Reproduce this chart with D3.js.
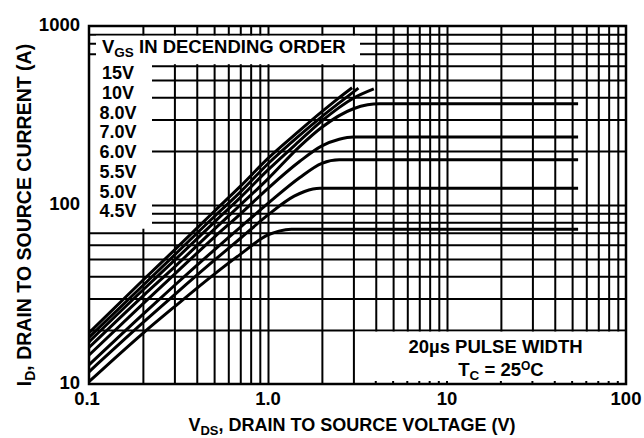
<!DOCTYPE html>
<html><head><meta charset="utf-8">
<script src="https://cdn.jsdelivr.net/npm/d3@7"></script>
<style>
body{margin:0;background:#fff}
svg{display:block}
text{font-family:"Liberation Sans",Arial,Helvetica,sans-serif;font-weight:bold;fill:#000}
</style>
</head><body>
<svg id="chart" width="644" height="438"></svg>
<script>
// ---- data ----
const vgsLabels = ["15V","10V","8.0V","7.0V","6.0V","5.5V","5.0V","4.5V"];

const vds15 = [0.1,0.2,0.3,0.5,0.7,1.0,1.5,2.0,2.5,2.95];
const id15  = [19.3,38,56,92,127,182,260,332,398,452];
const vds10 = [0.1,0.2,0.3,0.5,0.7,1.0,1.5,2.0,2.5,3.2];
const id10  = [18.2,35.5,52.5,86,118,170,245,312,372,450];
const vds8  = [0.1,0.2,0.3,0.5,0.7,1.0,1.5,2.0,3.0,3.9];
const id8   = [17.2,33.5,49,80,110,157,228,295,395,445];
const vds7  = [0.1,0.2,0.3,0.5,0.7,1.0,1.5,2.0,3.0,3.6,4.2,54];
const id7   = [16,31,45,73,100,140,212,272,345,363,368,368];
const vds6  = [0.1,0.2,0.3,0.5,0.7,1.0,1.5,2.0,2.5,3.0,54];
const id6   = [14.5,28,41,66,89,124,175,214,233,240,240];
const vds55 = [0.1,0.2,0.3,0.5,0.7,1.0,1.5,2.0,2.5,54];
const id55  = [12.8,24.5,35.5,56,75,102,142,171,179,179];
const vds5  = [0.1,0.2,0.3,0.5,0.7,1.0,1.4,1.6,1.95,54];
const id5   = [11.7,22,31.5,49,65,88,112,119,124,124];
const vds45 = [0.1,0.2,0.3,0.5,0.7,1.0,1.15,1.35,54];
const id45  = [10.3,19.2,27,41,53,68,71.5,73.3,73.3];

const xTickValues = [0.1,1,10,100];
const xTickLabels = ["0.1","1.0","10","100"];
const yTickValues = [10,100,1000];
const yTickLabels = ["10","100","1000"];
const xGrid = [0.2,0.3,0.4,0.5,0.6,0.7,0.8,0.9,1,2,3,4,5,6,7,8,9,10,20,30,40,50,60,70,80,90];
const yGrid = [20,30,40,50,60,70,80,90,100,200,300,400,500,600,700,800,900];

const seriesVds = [vds15,vds10,vds8,vds7,vds6,vds55,vds5,vds45];
const seriesId  = [id15,id10,id8,id7,id6,id55,id5,id45];

// ---- layout ----
const L = 89, R = 626, T = 26, B = 384;
const FS = 18.5;
const svg = d3.select("#chart");
const x = d3.scaleLog().domain([0.1,100]).range([L,R]);
const y = d3.scaleLog().domain([10,1000]).range([B,T]);

// grid via axes
svg.append("g").attr("transform",`translate(0,${B})`)
  .call(d3.axisBottom(x).tickValues(xGrid).tickSize(-(B-T)).tickFormat(""))
  .call(g=>{g.select(".domain").remove();g.selectAll("line").attr("stroke","#000").attr("stroke-width",2);});
svg.append("g").attr("transform",`translate(${L},0)`)
  .call(d3.axisLeft(y).tickValues(yGrid).tickSize(-(R-L)).tickFormat(""))
  .call(g=>{g.select(".domain").remove();g.selectAll("line").attr("stroke","#000").attr("stroke-width",2);});

// white label areas
svg.append("rect").attr("x",96).attr("y",y(900)+1.5).attr("width",264).attr("height",y(600)-y(900)-3).attr("fill","#fff");
svg.append("rect").attr("x",L).attr("y",y(600)-2).attr("width",63).attr("height",y(70)-y(600)-2).attr("fill","#fff");
svg.append("rect").attr("x",x(3)+2).attr("y",y(20)+1.5).attr("width",R-x(3)-2).attr("height",B-y(20)-1.5).attr("fill","#fff");
// small ticks at bottom inside annotation box
svg.append("g").selectAll("line").data(xGrid.filter(d=>x(d)>x(3)+2)).join("line")
  .attr("x1",d=>x(d)).attr("x2",d=>x(d)).attr("y1",B-3).attr("y2",B)
  .attr("stroke","#000").attr("stroke-width",2);

// curves
const line = d3.line().x(d=>x(d[0])).y(d=>y(d[1])).curve(d3.curveMonotoneX);
seriesVds.forEach((vs,i)=>{
  const pts = vs.map((v,j)=>[v,seriesId[i][j]]);
  svg.append("path").attr("d",line(pts)).attr("fill","none")
    .attr("stroke","#000").attr("stroke-width",3);
});

// border
svg.append("rect").attr("x",L).attr("y",T).attr("width",R-L).attr("height",B-T)
  .attr("fill","none").attr("stroke","#000").attr("stroke-width",2.5);

// tick labels
svg.append("g").selectAll("text").data(xTickValues).join("text")
  .attr("x",(d,i)=>x(d)-(i===0?2:0)).attr("y",405).attr("text-anchor","middle").attr("font-size",FS)
  .text((d,i)=>xTickLabels[i]);
svg.append("g").selectAll("text").data(yTickValues).join("text")
  .attr("x",80).attr("y",d=>y(d)+4.5).attr("text-anchor","end").attr("font-size",FS)
  .text((d,i)=>yTickLabels[i]);

// axis titles
const xt = svg.append("text").attr("x",352).attr("y",431).attr("text-anchor","middle").attr("font-size",18);
xt.append("tspan").text("V");
xt.append("tspan").attr("font-size",13).attr("dy",3.5).text("DS");
xt.append("tspan").attr("dy",-3.5).text(", DRAIN TO SOURCE VOLTAGE (V)");

const yt = svg.append("text").attr("transform","translate(31,215) rotate(-90)").attr("text-anchor","middle").attr("font-size",19.5);
yt.append("tspan").text("I");
yt.append("tspan").attr("font-size",14).attr("dy",4).text("D");
yt.append("tspan").attr("dy",-4).text(", DRAIN TO SOURCE CURRENT (A)");

// legend title
const lt = svg.append("text").attr("x",102).attr("y",52.5).attr("font-size",FS);
lt.append("tspan").text("V");
lt.append("tspan").attr("font-size",13.5).attr("dy",4).text("GS");
lt.append("tspan").attr("dy",-4).text(" IN DECENDING ORDER");

// legend labels
svg.append("g").selectAll("text").data(vgsLabels).join("text")
  .attr("x",118).attr("y",(d,i)=>79.3+i*19.7).attr("text-anchor","middle").attr("font-size",18)
  .text(d=>d);

// annotation
svg.append("text").attr("x",495.5).attr("y",353).attr("text-anchor","middle").attr("font-size",FS)
  .text("20µs PULSE WIDTH");
const an = svg.append("text").attr("x",501).attr("y",376).attr("text-anchor","middle").attr("font-size",FS);
an.append("tspan").text("T");
an.append("tspan").attr("font-size",13.5).attr("dy",3.5).text("C");
an.append("tspan").attr("dy",-3.5).text(" = 25");
an.append("tspan").attr("font-size",12).attr("dy",-6).text("O");
an.append("tspan").attr("dy",6).text("C");
</script>
</body></html>
